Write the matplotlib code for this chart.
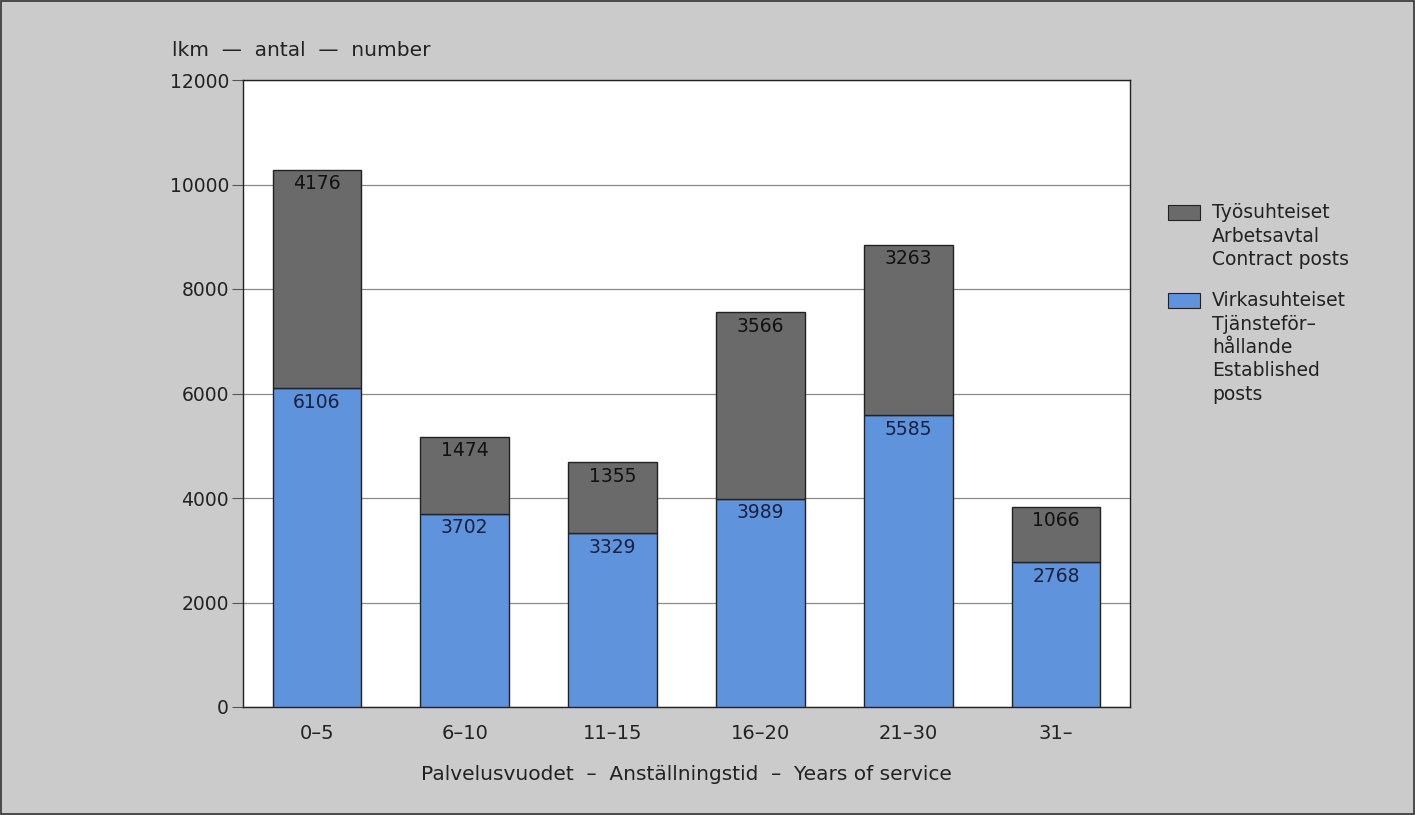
import matplotlib
matplotlib.use('Agg')
import matplotlib.pyplot as plt
import matplotlib.patches as patches

categories = ['0-5', '6-10', '11-15', '16-20', '21-30', '31-']
tick_labels = ['0\u20135', '6\u201310', '11\u201315', '16\u201320', '21\u201330', '31\u2013']
established = [6106, 3702, 3329, 3989, 5585, 2768]
contract = [4176, 1474, 1355, 3566, 3263, 1066]
y_ticks = [0, 2000, 4000, 6000, 8000, 10000, 12000]

BG = '#cbcbcb'
BLUE = '#5f93dc'
GREY = '#6a6a6a'
FONT = 'DejaVu Sans'

fig = plt.figure(figsize=(14.15, 8.15), dpi=100, facecolor=BG)
ax = fig.add_axes([243 / 1415, 1 - 707 / 815, 887 / 1415, 627 / 815])
ax.set_facecolor('white')

x = list(range(len(categories)))
ax.bar(x, established, width=0.6, color=BLUE, edgecolor='#222222', lw=1.0, zorder=3)
ax.bar(x, contract, bottom=established, width=0.6, color=GREY, edgecolor='#222222',
       lw=1.0, zorder=3)

for xi, e, c in zip(x, established, contract):
    ax.text(xi, e - 90, str(e), ha='center', va='top', fontsize=13.5,
            color='#1a2040', family=FONT, zorder=4)
    ax.text(xi, e + c - 90, str(c), ha='center', va='top', fontsize=13.5,
            color='#111111', family=FONT, zorder=4)

ax.set_xlim(-0.5, 5.5)
ax.set_ylim(0, 12000)
ax.set_yticks(y_ticks)
ax.set_yticklabels([str(v) for v in y_ticks], family=FONT, fontsize=13.5, color='#222222')
ax.set_xticks(x)
ax.set_xticklabels(tick_labels, family=FONT, fontsize=14, color='#222222')
ax.tick_params(axis='y', length=8, width=0.8, color='#555555', pad=2)
ax.tick_params(axis='x', length=0, pad=12)
ax.yaxis.grid(True, color='#8a8a8a', lw=0.9, zorder=0)
for s in ax.spines.values():
    s.set_color('#222222')
    s.set_linewidth(1.0)

ax.set_xlabel('Palvelusvuodet  \u2013  Anställningstid  \u2013  Years of service',
              family=FONT, fontsize=14.5, color='#222222', labelpad=16)
fig.text(172 / 1415, 1 - 51 / 815, 'lkm  \u2014  antal  \u2014  number', family=FONT,
         fontsize=14.5, color='#222222', va='center', ha='left')

# legend
legend_items = [
    (GREY, 'Työsuhteiset\nArbetsavtal\nContract posts', 205),
    (BLUE, 'Virkasuhteiset\nTjänsteför\u2013\nhållande\nEstablished\nposts', 293),
]
for col, label, ytop in legend_items:
    fig.patches.append(patches.Rectangle(
        (1168 / 1415, 1 - (ytop + 15) / 815), 32 / 1415, 15 / 815,
        transform=fig.transFigure, fc=col, ec='#222222', lw=0.8))
    fig.text(1212 / 1415, 1 - (ytop - 2) / 815, label, family=FONT, fontsize=13.5,
             color='#222222', va='top', ha='left', linespacing=1.3)

# outer frame
fig.patches.append(patches.Rectangle((0.001, 0.001), 0.998, 0.998,
                                     transform=fig.transFigure, fill=False,
                                     ec='#333333', lw=1.2))

plt.savefig('out.png', dpi=100, facecolor=BG)
plt.close()
